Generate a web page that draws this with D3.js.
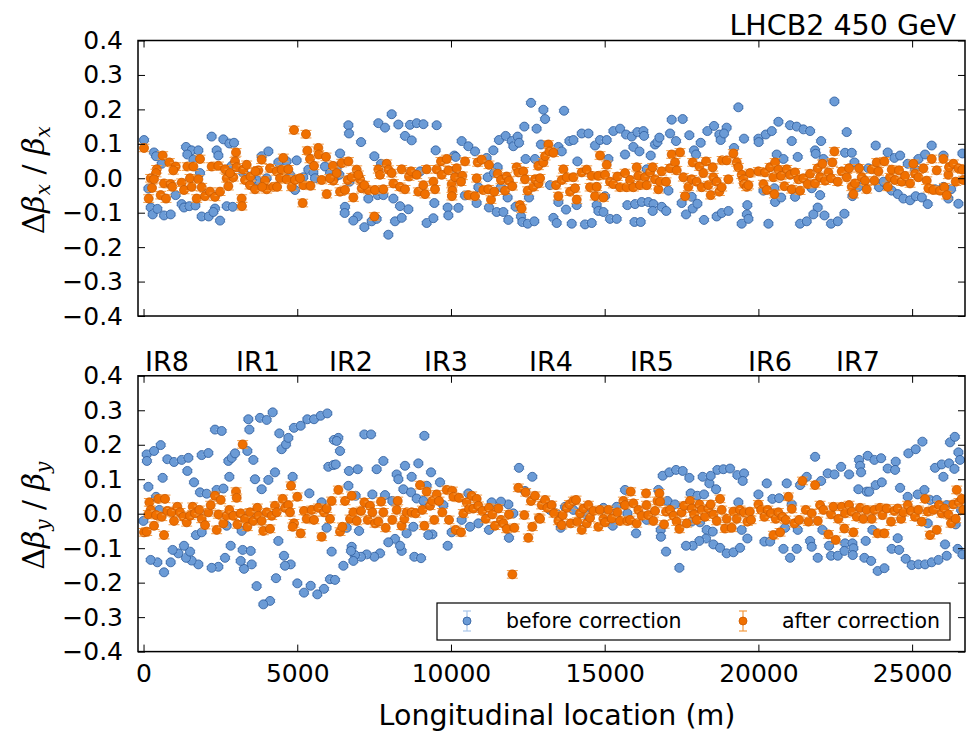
<!DOCTYPE html>
<html>
<head>
<meta charset="utf-8">
<script src="https://cdn.jsdelivr.net/npm/d3@7"></script>
<style>
  body { margin: 0; background: #fff; }
  text { font-family: "DejaVu Sans", sans-serif; }
</style>
</head>
<body>
<div id="chart"></div>
<script>
// [longitudinal location (m), delta beta / beta]
const beforeX = [[16,0.111],[341,0.075],[407,0.064],[591,0.042],[157,-0.030],[233,-0.085],[298,-0.105],[450,-0.089],[667,-0.108],[883,-0.105],[1046,-0.049],[1241,-0.075],[1317,-0.085],[1491,-0.081],[1686,-0.079],[1382,0.091],[1566,0.081],[1425,0.069],[1783,0.081],[1621,0.054],[1837,0.015],[2217,0.121],[2596,0.113],[2791,0.101],[2943,0.103],[2379,0.081],[2434,0.066],[1892,-0.111],[2119,-0.111],[2325,-0.088],[2271,-0.098],[2488,-0.123],[2705,-0.081],[2900,-0.083],[2867,0.036],[3355,0.007],[3680,-0.005],[3843,0.064],[4060,0.078],[4385,0.046],[4656,0.049],[4981,0.052],[4927,-0.034],[5198,0.003],[5360,0.025],[5523,0.017],[5902,0.034],[6065,0.015],[6228,0.003],[5577,0.0],[3247,0.015],[3517,-0.005],[4005,0.0],[4764,0.01],
  [6392,0.072],[6663,0.154],[6684,0.130],[7075,0.105],[6283,0.032],[7638,0.160],[7855,0.147],[8072,0.186],[8289,0.156],[8668,0.155],[8885,0.160],[9102,0.157],[9535,0.154],[8505,0.123],[8722,0.110],[7508,0.064],[7725,0.042],[6554,-0.083],[6543,-0.101],[6966,-0.111],[6825,-0.123],[7183,-0.142],[7421,-0.125],[7584,-0.118],[7963,-0.164],[8180,-0.125],[8397,-0.115],[8343,-0.081],[8614,-0.090],[8126,-0.059],[7617,-0.049],[7801,-0.049],[7313,-0.059],[9210,-0.130],[9427,-0.116],[9459,-0.072],[9893,-0.085],[9915,-0.108],[10240,-0.086],[10457,-0.050],[10836,-0.072],[10891,-0.026],[11237,-0.085],[11487,-0.098],[11703,-0.098],[11866,-0.121],[12104,-0.083],[11844,-0.056],[12538,-0.056],[12277,-0.111],[12321,-0.127],[12495,-0.132],[12711,-0.125],[9503,0.081],[10110,0.066],[10153,0.062],[10348,0.108],[10565,0.093],[10782,0.078],[11161,0.059],[11378,0.081],[11562,0.111],[11779,0.123],[11974,0.108],[12028,0.093],[12169,0.121],[12213,0.103],[12386,0.150],[12787,0.144],[12928,0.098],[12603,0.219],[12429,0.056],[12733,0.056],[11519,0.032],[11194,0.003],[11627,-0.026],[6370,0.01],[6700,-0.01],[9000,0.02],[10100,0.02],[11400,0.015],
  [13006,0.199],[13678,0.196],[13061,0.172],[13494,0.091],[13603,0.078],[13852,0.108],[13982,0.111],[14112,0.049],[14253,0.130],[14470,0.130],[14687,0.095],[14849,0.111],[15066,0.111],[15120,0.056],[15283,0.137],[15500,0.144],[15695,0.127],[15879,0.121],[16063,0.134],[16258,0.137],[16280,0.123],[15933,0.091],[16128,0.078],[15662,0.069],[16497,0.066],[16638,0.098],[16714,0.105],[16779,0.118],[17126,0.130],[17321,0.108],[17180,0.170],[17537,0.172],[17754,0.125],[17906,0.081],[17971,0.069],[18123,0.103],[18340,0.137],[18557,0.152],[18730,0.127],[18774,0.111],[18968,0.147],[18882,0.130],[19207,0.088],[19348,0.206],[19532,0.115],[13223,-0.020],[13494,-0.069],[13743,-0.091],[13332,-0.115],[13440,-0.130],[13928,-0.132],[14361,-0.134],[14578,-0.130],[14741,-0.078],[14795,-0.095],[14958,-0.098],[15012,-0.052],[15174,-0.118],[15391,-0.118],[15738,-0.078],[15988,-0.075],[16204,-0.069],[16421,-0.069],[16584,-0.075],[16562,-0.095],[16855,-0.083],[17001,-0.095],[15970,-0.127],[16172,-0.127],[17072,-0.036],[17505,-0.072],[17646,-0.105],[17830,-0.054],[17863,-0.088],[18015,-0.074],[18231,-0.121],[18643,-0.111],[18806,-0.101],[19023,-0.095],[19456,-0.132],[19640,-0.078],[19625,-0.105],[14090,-0.078],[16367,0.026],
  [20001,0.115],[20010,0.105],[20239,0.127],[20434,0.137],[20651,0.164],[21030,0.154],[21247,0.150],[21464,0.142],[21681,0.137],[21085,0.108],[22039,0.108],[22472,0.223],[22873,0.134],[20597,0.069],[20814,0.056],[21280,0.062],[21844,0.081],[21865,0.071],[22115,0.056],[22819,0.074],[23036,0.074],[23123,0.046],[23816,0.095],[24207,0.075],[24423,0.059],[24608,0.066],[24857,0.042],[25204,0.056],[25421,0.069],[25637,0.095],[26017,0.066],[26635,0.072],[19675,-0.118],[20326,-0.132],[20163,-0.036],[20521,-0.029],[20543,-0.069],[20738,-0.056],[21193,-0.054],[21735,-0.029],[22006,-0.049],[21930,-0.085],[21789,-0.105],[22147,-0.108],[21356,-0.132],[21573,-0.125],[22364,-0.132],[22580,-0.125],[22797,-0.103],[23058,-0.052],[23253,-0.025],[23925,-0.026],[24190,-0.023],[24337,-0.036],[24532,-0.046],[24716,-0.059],[24933,-0.064],[25117,-0.052],[25317,-0.056],[25508,-0.075],[25746,-0.032],[26017,-0.025],[26266,-0.032],[26505,-0.074],[26180,-0.059],[24066,-0.010],[23578,0.029],[25095,0.026]];

const afterX = [[16,0.088],[623,0.066],[428,0.026],[407,0.015],[233,0.0],[341,-0.003],[276,-0.028],[168,-0.059],[558,-0.049],[732,-0.059],[667,-0.015],[883,-0.017],[938,-0.025],[840,0.046],[1046,0.034],[970,0.023],[1241,-0.013],[1317,-0.034],[1425,0.034],[1621,0.034],[1512,0.0],[1566,-0.025],[1837,0.056],[1783,-0.003],[1892,-0.026],[1729,-0.059],[2000,-0.052],[2163,-0.039],[2217,0.034],[2434,0.036],[2325,-0.054],[2488,-0.039],[2651,0.026],[2705,0.0],[2759,-0.023],[3008,0.075],[2976,0.049],[3030,0.032],[2921,0.003],[3192,-0.059],[3200,-0.081],[3247,0.025],[3355,0.039],[3301,-0.005],[3463,-0.020],[3626,-0.032],[3735,0.023],[3843,0.054],[3951,-0.007],[4005,-0.032],[4114,0.029],[4222,-0.025],[4330,0.020],[4493,0.025],[4547,0.059],[4439,0.0],[4656,-0.003],[4710,0.026],[4818,-0.025],[4927,-0.005],[4894,0.140],[5284,0.128],[5328,0.080],[5415,0.056],[5545,0.036],[5686,0.088],[5700,0.069],[5935,0.062],[5794,-0.005],[5957,-0.046],[6173,-0.007],[6160,0.036],[5176,-0.072],[5198,-0.020],[5430,-0.022],[2813,0.015],[3480,0.005],[3640,0.020],[3860,-0.025],[4345,-0.025],[5090,0.0],[6065,0.0],[6282,0.015],
  [6392,-0.039],[6446,0.044],[6663,0.049],[6554,-0.034],[6641,-0.005],[6825,-0.056],[6771,0.003],[6934,0.025],[7042,-0.003],[6988,0.010],[7096,-0.029],[7313,-0.034],[7530,-0.034],[7801,-0.032],[7508,-0.111],[7638,0.026],[7692,0.010],[7909,0.042],[7963,0.025],[8072,0.015],[8126,-0.015],[8343,-0.025],[8505,-0.032],[8397,0.026],[8636,0.005],[8700,0.020],[8885,0.010],[8939,-0.039],[9156,-0.046],[9102,-0.020],[9210,0.026],[9427,-0.010],[9481,-0.032],[9535,0.026],[9676,0.049],[9698,0.010],[9861,0.056],[9915,0.023],[10023,-0.017],[10045,-0.036],[10030,-0.052],[10132,0.003],[10186,0.029],[10370,0.007],[10327,-0.010],[10457,0.049],[10565,-0.049],[10782,-0.052],[10836,0.0],[10869,0.046],[11000,0.054],[11053,-0.034],[11215,-0.032],[11302,-0.062],[11410,-0.039],[11237,0.039],[11519,0.013],[11627,-0.005],[11757,-0.036],[11812,0.005],[11887,-0.007],[11996,-0.023],[12137,0.032],[12191,0.017],[12354,0.020],[12408,-0.003],[12245,-0.078],[12299,-0.088],[12495,-0.036],[12679,-0.025],[12733,-0.003],[12841,0.036],[12850,-0.015],[7183,-0.02],
  [12898,0.0],[13006,0.046],[13061,0.064],[13169,0.098],[13202,0.078],[13332,0.074],[13418,-0.020],[13494,-0.052],[13657,0.026],[13603,-0.005],[13765,0.003],[13874,-0.039],[13982,0.003],[14090,-0.062],[14036,-0.029],[14253,0.017],[14416,0.025],[14524,-0.026],[14687,-0.052],[14741,-0.025],[14578,0.007],[14849,0.066],[14795,0.007],[14958,-0.056],[15012,0.010],[15174,-0.010],[15283,-0.017],[15413,0.005],[15500,-0.026],[15662,0.015],[15716,-0.026],[15825,-0.005],[15933,-0.026],[16041,0.032],[16095,0.007],[16150,-0.020],[16313,0.003],[16367,-0.020],[16475,0.017],[16562,0.032],[16638,-0.003],[16747,-0.032],[16801,-0.010],[16855,0.020],[16996,-0.010],[17126,0.029],[17180,0.069],[17288,0.046],[17342,0.023],[17451,0.075],[17559,0.003],[17614,-0.052],[17722,-0.025],[17830,-0.003],[17863,0.046],[17993,-0.010],[18080,0.034],[18155,-0.026],[18210,0.015],[18296,0.049],[18372,-0.020],[18448,-0.049],[18513,0.032],[18535,0.003],[18643,-0.010],[18730,-0.039],[18806,-0.026],[18820,0.052],[18968,0.052],[19023,-0.003],[19185,0.072],[19294,0.046],[19348,0.032],[19456,0.010],[19510,-0.003],[19532,-0.017],[19619,-0.025],[15066,0.039],
  [19675,-0.020],[19730,0.015],[20001,0.020],[20163,-0.017],[20217,0.017],[20272,-0.034],[20380,0.032],[20488,0.003],[20543,0.046],[20521,-0.046],[20651,0.025],[20738,0.007],[20846,-0.023],[20922,0.026],[21030,0.010],[21085,-0.032],[21193,0.017],[21302,-0.003],[21356,-0.036],[21464,0.0],[21605,-0.017],[21681,0.013],[21844,-0.015],[21930,0.029],[22006,0.003],[22082,0.042],[22169,-0.007],[22277,0.017],[22364,0.0],[22407,0.046],[22472,0.078],[22580,-0.010],[22710,0.020],[22873,0.003],[22949,0.029],[23036,-0.025],[23090,-0.046],[23144,-0.015],[23274,0.029],[23361,0.003],[23469,-0.007],[23523,-0.032],[23686,0.026],[23773,-0.007],[23849,0.046],[23903,0.020],[24098,0.049],[24207,-0.025],[24283,0.003],[24337,0.025],[24445,-0.005],[24575,0.023],[24662,-0.010],[24770,0.007],[24933,-0.015],[25041,0.042],[25095,0.013],[25204,0.003],[25367,0.029],[25475,-0.007],[25529,-0.029],[25637,0.056],[25692,-0.034],[25800,0.023],[25909,-0.036],[26017,0.056],[26049,-0.026],[26125,-0.049],[26180,0.010],[26201,0.032],[26342,0.042],[26418,-0.010],[26505,0.029],[26635,0.025],[26668,-0.005]];

const beforeY = [[103,0.172],[110,0.153],[341,0.182],[558,0.199],[775,0.158],[992,0.150],[1241,0.156],[1458,0.162],[1425,0.124],[623,0.104],[157,0.078],[407,0.049],[-5,-0.021],[515,0.011],[1642,0.091],[1837,0.062],[2055,0.058],[1892,0.170],[2108,0.176],[2325,0.244],[2542,0.240],[2759,0.153],[2867,0.162],[2976,0.175],[2791,0.107],[2379,0.069],[2596,0.073],[3409,0.274],[3442,0.244],[3377,0.182],[3572,0.156],[3789,0.278],[4005,0.272],[4200,0.294],[4417,0.233],[4493,0.187],[4634,0.201],[4710,0.220],[4894,0.249],[5111,0.255],[5328,0.274],[5545,0.274],[5761,0.284],[5978,0.291],[6195,0.214],[6336,0.220],[6011,0.136],[6173,0.141],[3626,0.100],[4060,0.098],[3843,0.071],[4276,0.120],[4851,0.107],[5393,0.059],[5794,0.033],[6390,0.182],[5956,-0.041],[6119,-0.110],[6065,-0.190],[6228,-0.192],[5870,-0.218],[5653,-0.234],[5437,-0.209],[5220,-0.229],[5003,-0.202],[4786,-0.147],[4569,-0.122],[4602,-0.151],[4309,-0.187],[4385,-0.079],[4114,-0.253],[3897,-0.263],[3680,-0.210],[3518,-0.147],[3268,-0.160],[3160,-0.137],[3225,-0.105],[3485,-0.108],[2835,-0.093],[2651,-0.128],[2434,-0.154],[2217,-0.157],[1783,-0.147],[1566,-0.136],[1382,-0.128],[1512,-0.110],[1317,-0.093],[1133,-0.115],[948,-0.105],[884,-0.141],[667,-0.170],[450,-0.141],[233,-0.134],[1707,-0.062],[1892,-0.054],[2705,-0.035],[3192,-0.050],
  [6283,0.211],[7183,0.230],[7400,0.230],[9134,0.226],[6251,0.143],[6684,0.124],[6966,0.129],[6663,0.081],[6901,0.052],[7584,0.129],[7801,0.153],[8234,0.114],[8289,0.100],[8505,0.139],[8722,0.107],[8939,0.146],[9351,0.120],[8451,0.071],[8700,0.062],[8885,0.044],[9102,0.037],[9210,0.081],[9644,0.091],[7443,0.056],[7855,0.054],[8093,0.037],[9752,0.025],[10565,0.059],[12213,0.133],[12646,0.107],[12408,0.066],[12028,0.001],[11866,0.027],[11627,0.035],[11324,0.033],[10348,-0.018],[10620,-0.038],[10891,-0.028],[11237,-0.047],[11887,-0.070],[10023,-0.054],[9394,-0.060],[9264,-0.062],[8776,-0.038],[8559,-0.057],[8397,-0.108],[8180,-0.073],[8343,-0.093],[7963,-0.083],[7692,-0.115],[7508,-0.125],[7259,-0.118],[7075,-0.125],[6879,-0.120],[6825,-0.137],[6771,-0.096],[6749,-0.108],[6500,-0.151],[7010,-0.050],[6608,-0.041],[8809,-0.125],[9026,-0.129],[9893,-0.093],
  [13570,-0.041],[13223,0.011],[13418,0.001],[13711,0.020],[13982,0.011],[14394,-0.002],[14958,0.017],[15261,-0.035],[15391,0.020],[15662,0.069],[15738,0.001],[16020,-0.057],[16367,-0.018],[16746,0.069],[16822,-0.047],[16830,-0.067],[16996,-0.110],[17039,0.037],[17288,0.027],[17429,-0.157],[16887,0.110],[17104,0.120],[17321,0.127],[17537,0.124],[17754,0.104],[17798,0.059],[18015,0.052],[18231,0.056],[18188,0.107],[18405,0.088],[18448,0.110],[18622,0.071],[18665,0.127],[18860,0.129],[19077,0.131],[19315,0.112],[19532,0.117],[19489,0.095],[19348,0.033],[18101,-0.025],[18318,-0.047],[18513,-0.052],[18296,-0.072],[18080,-0.079],[17863,-0.093],[17646,-0.093],[18535,-0.089],[18752,-0.099],[18968,-0.115],[19185,-0.112],[19402,-0.099],[19456,-0.047],[19640,-0.072],[17830,-0.023],
  [20001,0.056],[20272,0.088],[20456,0.043],[20672,0.045],[20922,0.088],[21085,0.027],[21356,0.083],[21573,0.107],[21844,0.165],[22039,0.095],[22256,0.117],[22472,0.114],[22689,0.136],[22949,0.114],[23253,0.071],[23274,0.156],[23307,0.139],[23339,0.120],[23523,0.064],[23600,0.064],[23556,0.168],[23773,0.156],[23990,0.161],[23816,0.083],[24012,0.091],[24207,0.131],[24467,0.151],[24445,0.127],[24608,0.075],[24857,0.049],[24879,0.175],[25117,0.187],[25334,0.209],[25182,0.056],[25399,0.069],[25583,0.040],[25800,0.040],[25746,0.133],[25963,0.143],[26017,0.107],[26201,0.146],[26375,0.130],[26233,0.207],[26390,0.223],[26505,0.178],[26559,0.156],[26418,-0.031],[26125,0.025],[26592,0.011],[20196,-0.081],[20380,-0.081],[20814,-0.102],[21030,-0.128],[21247,-0.102],[20868,-0.041],[21280,-0.047],[21681,-0.079],[21735,-0.096],[21930,-0.128],[22082,-0.047],[22299,-0.093],[22364,-0.122],[22580,-0.122],[22819,-0.086],[23058,-0.086],[22797,-0.108],[23090,-0.100],[23070,-0.120],[23448,-0.128],[23491,-0.079],[23665,-0.137],[23881,-0.166],[24098,-0.158],[24337,-0.102],[24575,-0.105],[24532,-0.071],[23708,-0.047],[24792,-0.131],[24987,-0.149],[25204,-0.147],[25421,-0.147],[25637,-0.141],[25855,-0.134],[26125,-0.122],[26071,-0.089],[26483,-0.102],[26635,-0.118],[25508,-0.028]];

const afterY = [[16,-0.054],[103,-0.052],[341,-0.035],[190,0.033],[233,0.011],[157,-0.002],[482,0.043],[699,0.043],[407,-0.004],[591,-0.009],[667,-0.062],[775,0.008],[916,0.004],[992,-0.021],[1100,0.020],[1187,0.004],[1295,-0.009],[1404,-0.025],[1512,-0.006],[1599,0.020],[1675,0.001],[1816,0.011],[1892,-0.015],[2000,-0.033],[2108,0.004],[2184,0.025],[2325,0.052],[2379,-0.047],[2434,-0.002],[2510,0.040],[2596,-0.028],[2705,-0.006],[2791,0.011],[2921,-0.006],[3008,0.064],[3030,0.046],[3052,-0.031],[3160,0.001],[3225,0.201],[3301,-0.015],[3377,-0.038],[3463,0.004],[3572,-0.021],[3702,0.017],[3735,-0.006],[3843,-0.021],[3897,-0.050],[4005,0.004],[4114,-0.044],[4168,-0.006],[4276,0.023],[4330,0.004],[4526,0.043],[4602,0.017],[4710,0.025],[4764,0.004],[4797,0.081],[4894,-0.028],[4851,-0.038],[5003,0.049],[5111,-0.057],[5220,0.008],[5306,-0.015],[5469,0.011],[5545,-0.018],[5686,0.017],[5794,-0.067],[5870,0.004],[5957,0.015],[6065,-0.015],[6119,0.037],
  [6337,0.069],[6392,-0.052],[6467,-0.038],[6554,0.037],[6771,0.052],[6717,-0.015],[6825,0.004],[6934,-0.021],[7075,0.008],[7183,0.033],[7291,-0.018],[7367,0.023],[7443,0.004],[7530,-0.028],[7638,-0.023],[7725,0.035],[7801,0.004],[7877,-0.041],[8093,-0.018],[8234,0.011],[8267,0.037],[8397,-0.035],[8484,-0.015],[8559,0.004],[8722,0.004],[8852,0.001],[8993,0.083],[9069,0.011],[9134,-0.035],[9210,0.064],[9319,0.023],[9394,0.037],[9459,-0.018],[9535,0.056],[9611,0.037],[9720,0.004],[9861,0.069],[9937,-0.018],[10045,0.066],[10078,0.049],[10153,-0.047],[10262,0.046],[10327,-0.054],[10403,0.001],[10511,0.033],[10587,0.014],[10674,0.052],[10728,0.015],[10836,0.043],[10891,0.023],[11020,0.008],[11129,-0.015],[11237,0.017],[11345,-0.002],[11432,-0.035],[11541,0.015],[11627,-0.018],[11703,-0.028],[11812,-0.044],[11887,-0.002],[12061,-0.041],[11996,-0.176],[12191,0.075],[12429,0.062],[12516,-0.070],[12603,0.037],[12646,-0.038],[12733,0.052],[12863,-0.012],[12950,0.025],[12386,-0.004],
  [12898,-0.015],[13061,0.040],[13136,0.017],[13277,0.025],[13353,0.001],[13494,-0.021],[13603,-0.033],[13635,-0.004],[13765,0.017],[13852,0.027],[13982,0.037],[13895,-0.028],[14069,0.040],[14112,-0.023],[14199,0.001],[14253,-0.047],[14307,0.015],[14416,-0.028],[14470,0.025],[14524,-0.012],[14632,0.008],[14795,-0.038],[14849,0.011],[14958,-0.015],[15012,-0.025],[15120,0.011],[15229,-0.014],[15413,0.004],[15500,-0.021],[15608,0.037],[15662,0.025],[15738,-0.021],[15825,-0.018],[15846,0.064],[15933,0.030],[16041,-0.028],[16095,0.011],[16204,-0.006],[16345,0.059],[16360,0.025],[16421,-0.004],[16584,-0.021],[16638,0.008],[16714,0.037],[16779,0.059],[16801,0.035],[16931,-0.031],[16996,0.006],[17126,0.011],[17234,-0.006],[17342,-0.023],[17429,-0.044],[17505,0.004],[17581,0.023],[17667,-0.028],[17776,0.037],[17830,0.015],[17906,-0.002],[17993,-0.018],[18080,0.027],[18155,0.011],[18264,-0.009],[18372,0.015],[18448,0.027],[18535,-0.002],[18643,-0.021],[18752,0.043],[18806,0.011],[18914,-0.043],[18968,-0.015],[19131,-0.041],[19185,0.006],[19294,-0.015],[19402,0.011],[19532,0.004],[19640,-0.023],
  [19721,0.006],[19760,-0.018],[20001,0.027],[20087,0.011],[20196,-0.009],[20304,0.011],[20412,0.001],[20488,-0.062],[20564,-0.015],[20651,0.004],[20706,-0.054],[20781,-0.009],[20890,-0.018],[20976,0.049],[21085,0.014],[21171,-0.028],[21323,-0.018],[21432,0.095],[21540,0.011],[21627,-0.023],[21735,0.001],[21844,0.083],[21930,-0.021],[22006,0.025],[22115,0.011],[22277,-0.060],[22364,-0.002],[22440,0.020],[22515,-0.076],[22602,-0.015],[22710,0.020],[22797,-0.043],[22819,0.001],[22949,0.025],[23036,0.006],[23090,-0.054],[23198,-0.009],[23307,0.017],[23415,-0.015],[23523,0.011],[23686,-0.015],[23773,0.011],[23881,-0.057],[23957,0.017],[24033,-0.004],[24098,-0.057],[24174,0.015],[24315,-0.023],[24424,0.008],[24532,0.015],[24640,-0.015],[24716,0.004],[24857,0.025],[24965,0.008],[25095,-0.009],[25204,0.011],[25312,-0.023],[25421,0.043],[25508,0.006],[25583,-0.062],[25692,0.011],[25800,-0.047],[25876,0.025],[25963,0.001],[26049,0.015],[26180,-0.002],[26266,-0.028],[26342,0.027],[26418,-0.015],[26450,0.069],[26526,0.033],[26613,0.043],[26667,0.011]];

// error bar half widths
const errBefore = 0.004;
const errAfter = 0.011;

const seriesNames = ["before correction", "after correction"];
const irNames = ["IR8", "IR1", "IR2", "IR3", "IR4", "IR5", "IR6", "IR7"];
const irPos = [50, 3009, 6034, 9125, 12540, 15826, 19664, 22527];
const xTicks = [0, 5000, 10000, 15000, 20000, 25000];
const yTicks = [-0.4, -0.3, -0.2, -0.1, 0.0, 0.1, 0.2, 0.3, 0.4];

const colors = {
    before: {fill: "#6b9bd6", stroke: "#2c5b9a", err: "#a9c7ea"},
    after: {fill: "#f07000", stroke: "#cc5a00", err: "#f49a40"}
};

const width = 966, height = 735;
const left = 138, right = 965;
const panels = [
    {top: 40.5, bottom: 316, before: beforeX, after: afterX, sub: "x"},
    {top: 375.8, bottom: 651.6, before: beforeY, after: afterY, sub: "y"}
];

const svg = d3.select("#chart")
    .append("svg")
    .attr("width", width)
    .attr("height", height);

const x = d3.scaleLinear().domain([-180, 26720]).range([left, right]);

const toPts = (arr) => arr.map((d) => ({s: d[0], v: d[1]}));

panels.forEach((p, i) => {
    const y = d3.scaleLinear().domain([-0.4, 0.4]).range([p.bottom, p.top]);
    const g = svg.append("g");

    const drawSeries = (data, c, err) => {
        const pts = g.append("g").selectAll("g")
            .data(toPts(data))
            .enter().append("g");
        pts.append("line")
            .attr("x1", (d) => x(d.s)).attr("x2", (d) => x(d.s))
            .attr("y1", (d) => y(d.v - err)).attr("y2", (d) => y(d.v + err))
            .style("stroke", c.err).style("stroke-width", 1);
        [-err, err].forEach((e) => {
            pts.append("line")
                .attr("x1", (d) => x(d.s) - 5.5).attr("x2", (d) => x(d.s) + 5.5)
                .attr("y1", (d) => y(d.v + e)).attr("y2", (d) => y(d.v + e))
                .style("stroke", c.err).style("stroke-width", 1);
        });
        pts.append("circle")
            .attr("cx", (d) => x(d.s))
            .attr("cy", (d) => y(d.v))
            .attr("r", 4.5)
            .style("fill", c.fill)
            .style("stroke", c.stroke)
            .style("stroke-width", 0.8);
    };

    const clip = "clip" + i;
    svg.append("clipPath").attr("id", clip).append("rect")
        .attr("x", left).attr("y", p.top).attr("width", right - left).attr("height", p.bottom - p.top);
    g.attr("clip-path", `url(#${clip})`);

    drawSeries(p.before, colors.before, errBefore);
    drawSeries(p.after, colors.after, errAfter);

    // axes with inward ticks on all sides
    const ax = svg.append("g");
    ax.append("g")
        .attr("transform", `translate(${left},0)`)
        .call(d3.axisLeft(y).tickValues(yTicks).tickFormat(d3.format(".1f")).tickSize(-7).tickPadding(15));
    ax.append("g")
        .attr("transform", `translate(${right},0)`)
        .call(d3.axisRight(y).tickValues(yTicks).tickFormat("").tickSize(-7));
    ax.append("g")
        .attr("transform", `translate(0,${p.bottom})`)
        .call(d3.axisBottom(x).tickValues(xTicks).tickFormat(i === 1 ? d3.format("d") : "").tickSize(-7).tickPadding(13));
    ax.append("g")
        .attr("transform", `translate(0,${p.top})`)
        .call(d3.axisTop(x).tickValues(xTicks).tickFormat("").tickSize(-7));
    ax.selectAll(".domain").remove();
    ax.selectAll(".tick line").style("stroke", "#000").style("stroke-width", 1);
    ax.selectAll(".tick text").style("font-family", "DejaVu Sans").style("font-size", "25px").style("fill", "#000");

    svg.append("rect")
        .attr("x", left).attr("y", p.top)
        .attr("width", right - left).attr("height", p.bottom - p.top)
        .style("fill", "none").style("stroke", "#000").style("stroke-width", 1.5);

    // y label
    const lab = svg.append("text")
        .attr("transform", `translate(44,${(p.top + p.bottom) / 2 + 2}) rotate(-90)`)
        .attr("text-anchor", "middle")
        .style("font-family", "DejaVu Serif")
        .style("font-size", "30px");
    lab.append("tspan").text("Δ");
    lab.append("tspan").style("font-style", "italic").text("β");
    lab.append("tspan").style("font-style", "italic").style("font-size", "20px").attr("dy", 6).text(p.sub);
    lab.append("tspan").attr("dy", -6).text(" / ");
    lab.append("tspan").style("font-style", "italic").text("β");
    lab.append("tspan").style("font-style", "italic").style("font-size", "20px").attr("dy", 6).text(p.sub);
});

// title
svg.append("text")
    .attr("x", 956).attr("y", 35)
    .attr("text-anchor", "end")
    .style("font-size", "28.5px")
    .text("LHCB2 450 GeV");

// IR labels
svg.append("g").selectAll("text")
    .data(irNames)
    .enter().append("text")
    .attr("x", (d, i) => x(irPos[i]))
    .attr("y", 371)
    .style("font-size", "27px")
    .text((d) => d);

// x label
svg.append("text")
    .attr("x", 557).attr("y", 725)
    .attr("text-anchor", "middle")
    .style("font-size", "28.5px")
    .text("Longitudinal location (m)");

// legend
const leg = svg.append("g");
leg.append("rect")
    .attr("x", 437).attr("y", 603).attr("width", 513).attr("height", 37)
    .style("fill", "#fff").style("stroke", "#000").style("stroke-width", 1.2);
const legItems = [
    {name: seriesNames[0], c: colors.before, x: 467},
    {name: seriesNames[1], c: colors.after, x: 743}
];
legItems.forEach((d) => {
    const gy = 621;
    leg.append("line").attr("x1", d.x).attr("x2", d.x).attr("y1", gy - 10).attr("y2", gy + 10)
        .style("stroke", d.c.err).style("stroke-width", 1.2);
    [-10, 10].forEach((o) => {
        leg.append("line").attr("x1", d.x - 4).attr("x2", d.x + 4).attr("y1", gy + o).attr("y2", gy + o)
            .style("stroke", d.c.err).style("stroke-width", 1.2);
    });
    leg.append("circle").attr("cx", d.x).attr("cy", gy).attr("r", 4)
        .style("fill", d.c.fill).style("stroke", d.c.stroke).style("stroke-width", 0.8);
    leg.append("text").attr("x", d.x + 39).attr("y", gy + 7)
        .style("font-size", "20.5px")
        .text(d.name);
});
</script>
</body>
</html>
